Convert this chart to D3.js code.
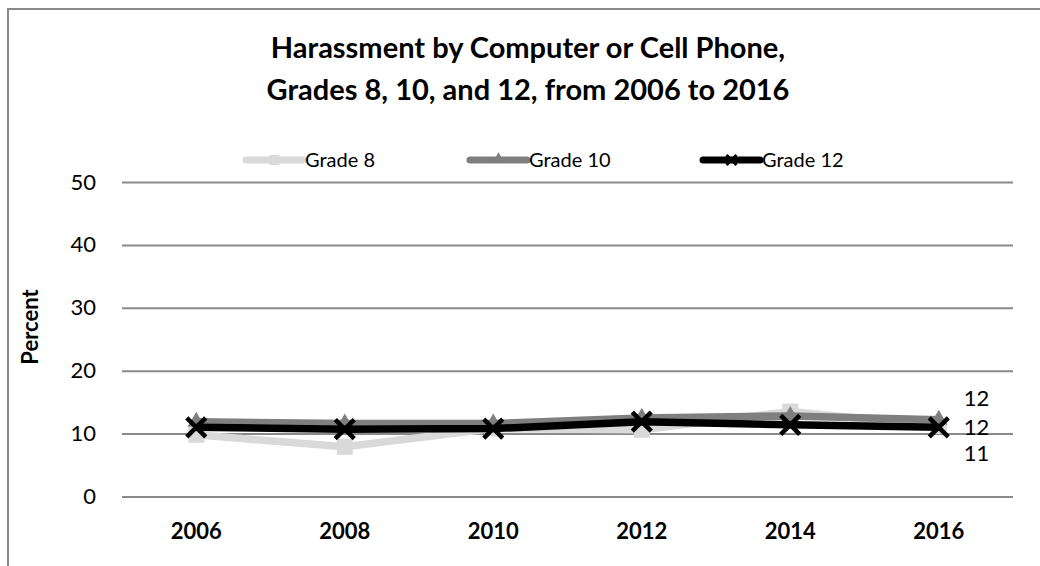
<!DOCTYPE html>
<html>
<head>
<meta charset="utf-8">
<script src="https://cdn.jsdelivr.net/npm/d3@7"></script>
<style>
  html, body { margin: 0; padding: 0; background: #fff; }
  svg { display: block; font-family: Lato, "Open Sans", sans-serif; }
</style>
</head>
<body>
<svg id="chart" width="1040" height="566"></svg>
<script>
// ---- data ----
const years = ["2006", "2008", "2010", "2012", "2014", "2016"];
const grade8 = [9.8, 7.9, 10.8, 10.6, 13.5, 11.2];
const grade10 = [11.9, 11.6, 11.6, 12.5, 12.8, 12.2];
const grade12 = [11.0, 10.7, 10.8, 11.9, 11.4, 11.0];
const seriesNames = ["Grade 8", "Grade 10", "Grade 12"];
const yTicks = [0, 10, 20, 30, 40, 50];
const endLabels = ["12", "12", "11"]; // labels shown at 2016, top to bottom
const titleLines = ["Harassment by Computer or Cell Phone,", "Grades 8, 10, and 12, from 2006 to 2016"];
const yTitle = "Percent";

// ---- layout ----
const svg = d3.select("#chart");
const plotL = 122, plotR = 1013, plotT = 182, plotB = 496.5;

const x = d3.scaleBand().domain(years).range([plotL, plotR]);
const y = d3.scaleLinear().domain([0, 50]).range([plotB, plotT]);

// frame
svg.append("rect").attr("x", 8).attr("y", 9).attr("width", 1100).attr("height", 600)
  .attr("fill", "none").attr("stroke", "#8a8a8a").attr("stroke-width", 2);

// title
svg.append("g").selectAll("text").data(titleLines).join("text")
  .attr("x", 528).attr("y", (d, i) => 58 + i * 42)
  .attr("text-anchor", "middle").attr("font-weight", "bold").attr("font-size", 29)
  .attr("fill", "#000").text(d => d);

// gridlines + y labels
const yAxis = d3.axisLeft(y).tickValues(yTicks).tickSize(-(plotR - plotL)).tickPadding(26);
const gy = svg.append("g").attr("transform", `translate(${plotL},0)`).call(yAxis);
gy.select(".domain").remove();
gy.selectAll(".tick line").attr("stroke", "#8a8a8a").attr("stroke-width", 2);
gy.selectAll(".tick text").attr("font-size", 22).attr("fill", "#000")
  .attr("font-family", "Lato, sans-serif");

// x labels
const xAxis = d3.axisBottom(x).tickSize(0).tickPadding(27);
const gx = svg.append("g").attr("transform", `translate(0,${plotB})`).call(xAxis);
gx.select(".domain").remove();
gx.selectAll(".tick text").attr("font-size", 22).attr("font-weight", "bold").attr("fill", "#000")
  .attr("font-family", "Lato, sans-serif");

// y title
svg.append("text").attr("transform", `translate(38,327) rotate(-90)`)
  .attr("text-anchor", "middle").attr("font-weight", "bold").attr("font-size", 22)
  .text(yTitle);

// series
const series = [
  { name: seriesNames[0], values: grade8, color: "#d9d9d9", marker: "square" },
  { name: seriesNames[1], values: grade10, color: "#7f7f7f", marker: "triangle" },
  { name: seriesNames[2], values: grade12, color: "#000000", marker: "x" }
];
const cx = d => x(d) + x.bandwidth() / 2;
const line = d3.line().x((d, i) => cx(years[i])).y(d => y(d));

function drawMarker(g, type, color, px, py) {
  if (type === "square") {
    g.append("rect").attr("x", px - 8).attr("y", py - 8).attr("width", 16).attr("height", 16).attr("fill", color);
  } else if (type === "triangle") {
    g.append("path").attr("d", d3.symbol(d3.symbolTriangle, 130)()).attr("transform", `translate(${px},${py})`).attr("fill", color);
  } else {
    const s = 9.5;
    g.append("path").attr("d", `M${px - s},${py - s}L${px + s},${py + s}M${px - s},${py + s}L${px + s},${py - s}`)
      .attr("stroke", color).attr("stroke-width", 4.5).attr("fill", "none");
  }
}

series.forEach(s => {
  const g = svg.append("g");
  g.append("path").datum(s.values).attr("d", line).attr("fill", "none")
    .attr("stroke", s.color).attr("stroke-width", 7.5).attr("stroke-linejoin", "round");
  s.values.forEach((v, i) => drawMarker(g, s.marker, s.color, cx(years[i]), y(v)));
});

// end labels (at the 2016 point of Grade 12, stacked)
const lastY = y(grade12[grade12.length - 1]);
const offsets = [-29, 0, 26];
svg.append("g").selectAll("text").data(endLabels).join("text")
  .attr("x", cx(years[years.length - 1]) + 25).attr("y", (d, i) => lastY + offsets[i])
  .attr("dy", "0.35em").attr("font-size", 22).attr("fill", "#000").text(d => d);

// legend
const legendX = [246, 470, 703];
const legendY = 160;
series.forEach((s, i) => {
  const g = svg.append("g");
  const x0 = legendX[i], x1 = x0 + 57;
  g.append("line").attr("x1", x0).attr("x2", x1).attr("y1", legendY).attr("y2", legendY)
    .attr("stroke", s.color).attr("stroke-width", 7).attr("stroke-linecap", "round");
  if (s.marker === "x") {
    const px = (x0 + x1) / 2, k = 5;
    g.append("path").attr("d", `M${px - k},${legendY - k}L${px + k},${legendY + k}M${px - k},${legendY + k}L${px + k},${legendY - k}`)
      .attr("stroke", s.color).attr("stroke-width", 3);
  } else if (s.marker === "square") {
    g.append("rect").attr("x", (x0 + x1) / 2 - 5).attr("y", legendY - 5).attr("width", 10).attr("height", 10).attr("fill", s.color);
  } else {
    g.append("path").attr("d", d3.symbol(d3.symbolTriangle, 60)()).attr("transform", `translate(${(x0 + x1) / 2},${legendY - 1})`).attr("fill", s.color);
  }
  g.append("text").attr("x", x1 + 2).attr("y", legendY).attr("dy", "0.35em")
    .attr("font-size", 20).attr("fill", "#000").text(s.name);
});
</script>
</body>
</html>
